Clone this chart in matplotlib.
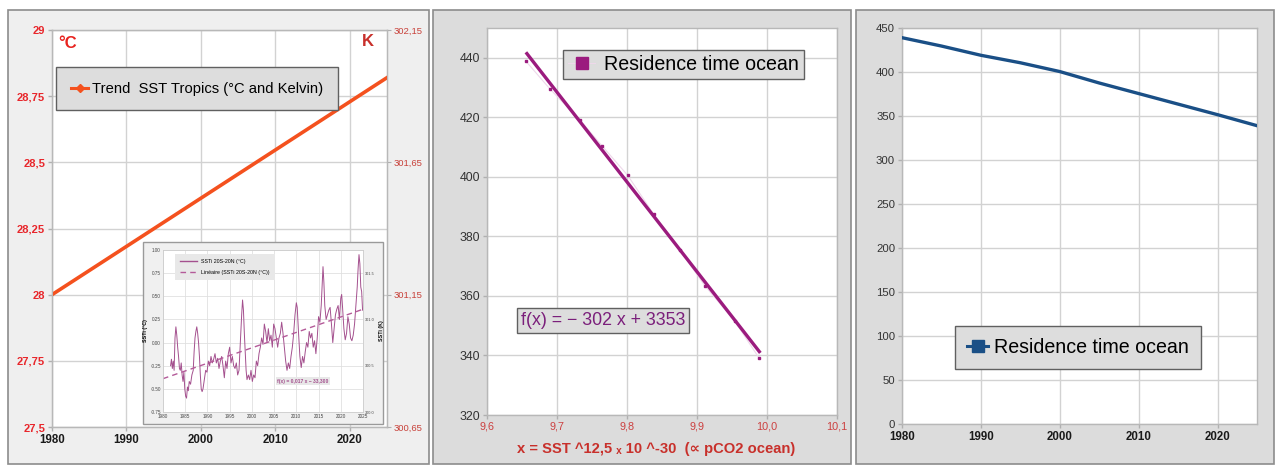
import numpy as np
import matplotlib
matplotlib.use("Agg")
import matplotlib.pyplot as plt
from matplotlib.patches import Rectangle
from matplotlib.lines import Line2D

W, H = 1278, 466
plt.rcParams['font.family'] = ['Liberation Sans', 'DejaVu Sans']

# ---------------- data ----------------
trend_years = [1980, 2025]
trend_sst_c = [28.0, 28.82]

left_yticks = [27.5, 27.75, 28.0, 28.25, 28.5, 28.75, 29.0]
right_yticks_k = [300.65, 301.15, 301.65, 302.15]
year_ticks = [1980, 1990, 2000, 2010, 2020]

ssti_years = [1981.7, 1981.9, 1982.1, 1982.3, 1982.5, 1982.7, 1982.9, 1983.1, 1983.3, 1983.5, 1983.7, 1983.9,
              1984.1, 1984.3, 1984.5, 1984.7, 1984.9, 1985.1, 1985.3, 1985.5, 1985.7, 1985.9,
              1986.2, 1986.5, 1986.8, 1987.0, 1987.2, 1987.4, 1987.6, 1987.8,
              1988.0, 1988.2, 1988.4, 1988.6, 1988.8, 1989.0, 1989.3, 1989.6, 1989.9,
              1990.2, 1990.5, 1990.8, 1991.1, 1991.4, 1991.7, 1992.0, 1992.3, 1992.6, 1992.9,
              1993.2, 1993.5, 1993.8, 1994.1, 1994.4, 1994.7, 1995.0, 1995.3, 1995.6, 1995.9,
              1996.2, 1996.5, 1996.8, 1997.1, 1997.3, 1997.5, 1997.7, 1997.9, 1998.1, 1998.3,
              1998.5, 1998.7, 1998.9, 1999.2, 1999.5, 1999.8, 2000.1, 2000.4, 2000.7, 2001.0,
              2001.3, 2001.6, 2001.9, 2002.2, 2002.5, 2002.8, 2003.1, 2003.4, 2003.7, 2004.0,
              2004.3, 2004.6, 2004.9, 2005.2, 2005.5, 2005.8, 2006.1, 2006.4, 2006.7, 2007.0,
              2007.3, 2007.6, 2007.9, 2008.2, 2008.5, 2008.8, 2009.1, 2009.4, 2009.7, 2010.0,
              2010.2, 2010.5, 2010.8, 2011.1, 2011.4, 2011.7, 2012.0, 2012.3, 2012.6, 2012.9,
              2013.2, 2013.5, 2013.8, 2014.1, 2014.4, 2014.7, 2015.0, 2015.3, 2015.6, 2015.8,
              2016.0, 2016.2, 2016.4, 2016.7, 2017.0, 2017.3, 2017.6, 2017.9, 2018.2, 2018.5,
              2018.8, 2019.1, 2019.4, 2019.7, 2020.0, 2020.2, 2020.4, 2020.7, 2021.0, 2021.3,
              2021.6, 2021.9, 2022.2, 2022.5, 2022.8, 2023.1, 2023.4, 2023.7, 2023.9, 2024.1,
              2024.3, 2024.5, 2024.7, 2024.9]
ssti_vals = [-0.25, -0.18, -0.28, -0.20, -0.30, 0.05, 0.17, 0.08, -0.05, -0.15, -0.28, -0.30,
             -0.22, -0.35, -0.42, -0.32, -0.50, -0.58, -0.60, -0.48, -0.52, -0.42,
             -0.45, -0.35, -0.30, -0.10, 0.05, 0.12, 0.17, 0.10,
             0.00, -0.15, -0.35, -0.50, -0.53, -0.50, -0.40, -0.30, -0.32,
             -0.20, -0.25, -0.15, -0.22, -0.18, -0.12, -0.22, -0.17, -0.28, -0.20,
             -0.15, -0.25, -0.38, -0.20, -0.28, -0.12, -0.05, -0.22, -0.15, -0.25,
             -0.28, -0.22, -0.35, -0.30, -0.10, 0.10, 0.30, 0.46, 0.35, 0.10,
             -0.10, -0.30, -0.40, -0.35, -0.40, -0.30, -0.42, -0.35, -0.38, -0.20,
             -0.25, -0.12, -0.05, 0.05, -0.02, 0.20, 0.12, 0.00, 0.15, 0.02,
             0.08, -0.05, 0.20, 0.15, 0.05, -0.05, 0.05, 0.10, 0.22, 0.10,
             -0.05, -0.20, -0.30, -0.22, -0.28, -0.15, -0.05, 0.10, 0.30, 0.43,
             0.38, 0.10, -0.15, -0.27, -0.15, -0.22, -0.10, 0.00, -0.05, 0.12,
             0.05, 0.10, -0.05, 0.02, -0.12, 0.05, 0.28, 0.22, 0.40, 0.60,
             0.82, 0.65, 0.40, 0.25, 0.30, 0.35, 0.38, 0.20, 0.00, 0.15,
             0.30, 0.36, 0.40, 0.25, 0.48, 0.52, 0.38, 0.15, 0.03, 0.10,
             0.28, 0.20, 0.05, 0.02, 0.08, 0.20, 0.40, 0.60, 0.80, 0.95,
             0.85, 0.60, 0.55, 0.35]
inset_trend_years = [1980, 2025]
inset_trend_vals = [-0.39, 0.36]
inset_yticks = [-0.75, -0.5, -0.25, 0.0, 0.25, 0.5, 0.75, 1.0]
inset_xticks = [1980, 1985, 1990, 1995, 2000, 2005, 2010, 2015, 2020, 2025]
inset_kticks = [-0.75, -0.25, 0.25, 0.75]
inset_klabels = ["300.0", "300.5", "301.0", "301.5"]

res_years = [1980, 1985, 1990, 1995, 2000, 2005, 2010, 2015, 2020, 2025]
res_time = [439, 429.5, 419, 410.5, 400.5, 387.5, 375.5, 363.5, 351.5, 339]
pco2_x = [9.655, 9.690, 9.733, 9.764, 9.801, 9.838, 9.875, 9.911, 9.954, 9.989]
fit_x = [9.657, 9.989]
fit_y = [441.4, 341.3]
mid_xticks = [9.6, 9.7, 9.8, 9.9, 10.0, 10.1]
mid_yticks = [320, 340, 360, 380, 400, 420, 440]
right_yticks = [0, 50, 100, 150, 200, 250, 300, 350, 400, 450]

# ---------------- figure ----------------
fig = plt.figure(figsize=(W / 100, H / 100), dpi=100)
fig.patch.set_facecolor('white')


def fr(l, t, r, b):
    return [l / W, 1 - b / H, (r - l) / W, (b - t) / H]


def panel(l, t, r, b, fc):
    fig.patches.append(Rectangle((l / W, 1 - b / H), (r - l) / W, (b - t) / H,
                                 transform=fig.transFigure, fc=fc, ec='#8c8c8c', lw=1.2, zorder=-10))


panel(8, 10, 429, 464, '#efefef')
panel(433, 10, 851, 464, '#dcdcdc')
panel(856, 10, 1274, 464, '#dcdcdc')

grid_c = '#d2d2d2'


def style_axes(ax):
    ax.set_facecolor('white')
    for s in ax.spines.values():
        s.set_color('#b8b8b8')
        s.set_linewidth(1)
    ax.grid(True, color=grid_c, lw=1)
    ax.set_axisbelow(True)
    ax.tick_params(length=3, color='#b0b0b0', width=1, pad=2)


# ---------- left panel ----------
axL = fig.add_axes(fr(52, 30, 387, 427))
style_axes(axL)
orange = '#f4511e'
axL.plot(trend_years, trend_sst_c, color=orange, lw=2.6, zorder=3)
axL.set_xlim(1980, 2025)
axL.set_ylim(27.5, 29.0)
axL.set_yticks(left_yticks)
axL.set_yticklabels([f"{v:g}".replace('.', ',') for v in left_yticks],
                    color='#e8262b', fontweight='bold', fontsize=8)
axL.set_xticks(year_ticks)
axL.set_xticklabels([str(y) for y in year_ticks], fontweight='bold', fontsize=8.3, color='#1a1a1a')
axR = axL.twinx()
axR.set_ylim(27.5 + 273.15, 29.0 + 273.15)
axR.set_yticks(right_yticks_k)
axR.set_yticklabels([f"{v:.2f}".replace('.', ',') for v in right_yticks_k],
                    color='#c8413a', fontsize=6.8)
axR.tick_params(length=3, color='#b0b0b0', pad=2)
for s in axR.spines.values():
    s.set_color('#b8b8b8')
axL.text(0.02, 0.985, '°C', transform=axL.transAxes, color='#e8231f', fontweight='bold',
         fontsize=12, va='top', ha='left')
axL.text(0.962, 0.99, 'K', transform=axL.transAxes, color='#c8302b', fontweight='bold',
         fontsize=12, va='top', ha='right')
legL = axL.legend([Line2D([0], [0], color=orange, lw=2.2, marker='D', markersize=4)],
                  ['Trend  SST Tropics (°C and Kelvin)'],
                  loc='upper left', bbox_to_anchor=(56 / W, 1 - 67 / H), bbox_transform=fig.transFigure,
                  fontsize=10.6, frameon=True, fancybox=False, facecolor='#dddddd', edgecolor='#606060',
                  framealpha=1, borderpad=1.0, handlelength=1.2, handletextpad=0.25, borderaxespad=0)
legL.get_frame().set_linewidth(1)

# inset (picture of another chart)
fig.patches.append(Rectangle((143 / W, 1 - 424 / H), 240 / W, 182 / H, transform=fig.transFigure,
                             fc='#f0f0f0', ec='#9a9a9a', lw=1, zorder=5))
axI = fig.add_axes(fr(163, 250, 363, 412))
axI.set_zorder(6)
axI.set_facecolor('white')
for s in axI.spines.values():
    s.set_color('#cccccc')
    s.set_linewidth(0.6)
axI.grid(True, color='#e0e0e0', lw=0.6)
axI.set_axisbelow(True)
mauve = '#a4508e'
axI.plot(ssti_years, ssti_vals, color=mauve, lw=0.7)
axI.plot(inset_trend_years, inset_trend_vals, color='#b45a99', lw=1.0, ls=(0, (4, 3)))
axI.set_xlim(1980, 2025)
axI.set_ylim(-0.75, 1.0)
axI.set_xticks(inset_xticks)
axI.set_xticklabels([str(v) for v in inset_xticks], fontsize=3.3, color='#444444')
axI.set_yticks(inset_yticks)
axI.set_yticklabels([f"{v:.2f}" for v in inset_yticks], fontsize=3.3, color='#444444')
axI.tick_params(length=0, pad=1.5)
axI.set_ylabel('SSTi (°C)', fontsize=3.8, fontweight='bold', labelpad=2)
axI2 = axI.twinx()
axI2.set_zorder(7)
axI2.set_ylim(-0.75, 1.0)
axI2.set_yticks(inset_kticks)
axI2.set_yticklabels(inset_klabels, fontsize=2.8, color='#444444')
axI2.tick_params(length=0, pad=1.5)
axI2.set_ylabel('SSTi (K)', fontsize=3.8, fontweight='bold', labelpad=3)
for s in axI2.spines.values():
    s.set_visible(False)
legI = axI2.legend([Line2D([0], [0], color=mauve, lw=1.0),
                    Line2D([0], [0], color='#b45a99', lw=1.0, ls=(0, (4, 3)))],
                   ['SSTi 20S-20N (°C)', 'Linéaire (SSTi 20S-20N (°C))'],
                   loc='upper left', bbox_to_anchor=(175 / W, 1 - 254 / H), bbox_transform=fig.transFigure,
                   fontsize=3.8, frameon=True, fancybox=False, facecolor='#e8e8e8', edgecolor='none',
                   framealpha=1, borderpad=1.0, labelspacing=1.0, handlelength=3.2, borderaxespad=0)
axI2.text(303 / W, 1 - 381 / H, 'f(x) = 0,017 x − 33,300', transform=fig.transFigure, fontsize=3.6,
          color='#a4508e', fontweight='bold', ha='center', va='center', zorder=8,
          bbox=dict(fc='#e8e8e8', ec='none', pad=1.2))

# ---------- middle panel ----------
axM = fig.add_axes(fr(487, 28, 837, 415))
style_axes(axM)
purple = '#9b1b7e'
axM.plot(pco2_x, res_time, color='#eed8ea', lw=0.8, zorder=2)
axM.plot(pco2_x, res_time, ls='none', marker='s', markersize=1.5, color=purple, zorder=3)
axM.plot(fit_x, fit_y, color=purple, lw=2.4, zorder=4)
axM.set_xlim(9.6, 10.1)
axM.set_ylim(320, 450)
axM.set_xticks(mid_xticks)
axM.set_xticklabels([f"{v:.1f}".replace('.', ',') for v in mid_xticks], color='#cc4040', fontsize=7.8)
axM.set_yticks(mid_yticks)
axM.set_yticklabels([str(v) for v in mid_yticks], color='#333333', fontsize=8.9)
axM.set_xlabel('x = SST ^12,5 ₓ 10 ^-30  (∝ pCO2 ocean)', color='#c8302b', fontweight='bold',
               fontsize=10.6)
axM.xaxis.set_label_coords(0.484, -0.07)
legM = axM.legend([Line2D([0], [0], color='#eed8ea', lw=0.8, marker='s', markersize=9,
                          markerfacecolor=purple, markeredgecolor=purple)],
                  ['Residence time ocean'],
                  loc='upper left', bbox_to_anchor=(563 / W, 1 - 50 / H), bbox_transform=fig.transFigure,
                  fontsize=14.1, frameon=True, fancybox=False, facecolor='#dddddd', edgecolor='#606060',
                  framealpha=1, borderpad=0.25, handlelength=1.4, handletextpad=0.45, borderaxespad=0)
legM.get_frame().set_linewidth(1)
axM.text(603 / W, 1 - 320.5 / H, 'f(x) = − 302 x + 3353', transform=fig.transFigure, fontsize=12.8,
         color='#7b1f7b', ha='center', va='center', zorder=8,
         bbox=dict(fc='#dddddd', ec='#606060', lw=1, boxstyle='square,pad=0.22'))

# ---------- right panel ----------
axRt = fig.add_axes(fr(902, 28, 1257, 424))
style_axes(axRt)
blue = '#1a4f86'
axRt.plot(res_years, res_time, color=blue, lw=2.4, zorder=3)
axRt.set_xlim(1980, 2025)
axRt.set_ylim(0, 450)
axRt.set_yticks(right_yticks)
axRt.set_yticklabels([str(v) for v in right_yticks], color='#333333', fontsize=8.2)
axRt.set_xticks(year_ticks)
axRt.set_xticklabels([str(y) for y in year_ticks], fontweight='bold', fontsize=8.3, color='#1a1a1a')
legR = axRt.legend([Line2D([0], [0], color=blue, lw=2.2, marker='s', markersize=9,
                           markerfacecolor=blue, markeredgecolor=blue)],
                   ['Residence time ocean'],
                   loc='upper left', bbox_to_anchor=(955 / W, 1 - 326 / H), bbox_transform=fig.transFigure,
                   fontsize=14.1, frameon=True, fancybox=False, facecolor='#dddddd', edgecolor='#606060',
                   framealpha=1, borderpad=0.6, handlelength=1.1, handletextpad=0.3, borderaxespad=0)
legR.get_frame().set_linewidth(1)

fig.savefig('out.png', dpi=100)
